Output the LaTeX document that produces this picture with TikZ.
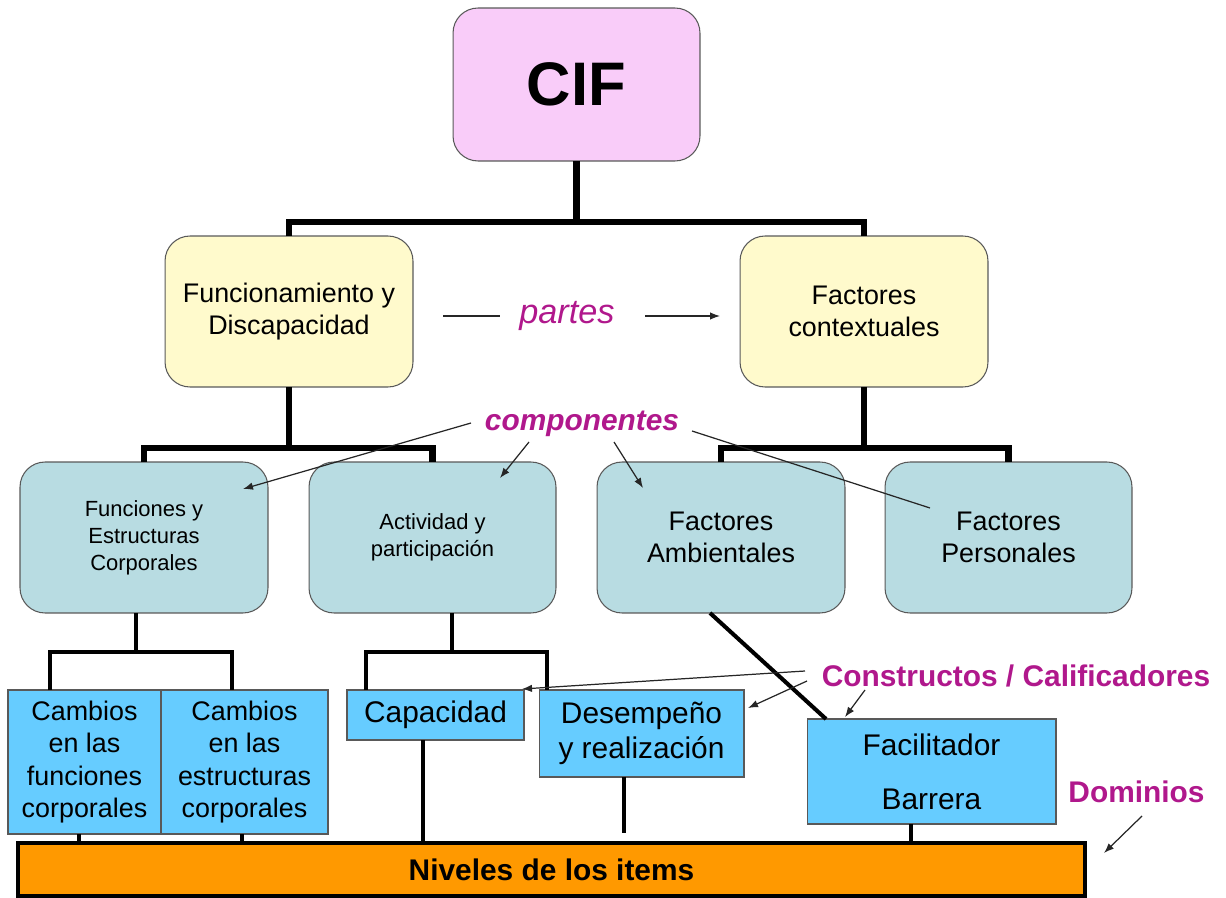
\documentclass[tikz,border=0pt]{standalone}
\usepackage{fontspec}
\setmainfont{Liberation Sans}
\usetikzlibrary{arrows.meta}
\definecolor{cifpink}{HTML}{F9CCF9}
\definecolor{partyellow}{HTML}{FFFACC}
\definecolor{compblue}{HTML}{B8DCE2}
\definecolor{skyblue}{HTML}{66CCFF}
\definecolor{itemorange}{HTML}{FF9900}
\definecolor{labelmag}{HTML}{B0188C}
\begin{document}
\begin{tikzpicture}[x=0.02cm,y=-0.02cm,
 box/.style={draw=black!65, line width=0.6pt, align=center, inner sep=0pt, outer sep=0pt},
 rbox/.style={box, rounded corners=0.5cm},
 trunk/.style={line width=3.6pt},
 branch/.style={line width=2pt},
 stem/.style={line width=1.8pt},
 pointer/.style={line width=0.7pt, black!85, -{Latex[length=2mm,width=1.5mm]}},
 plainline/.style={line width=0.7pt, black!85},
 tag/.style={text=labelmag, inner sep=0pt},
 fmid/.style={font=\fontsize{15.3}{18.3}\selectfont},
 fsmall/.style={font=\fontsize{12.5}{15.3}\selectfont},
 fbig/.style={font=\fontsize{17}{20}\selectfont},
]
\useasboundingbox (0,0) rectangle (1226,898);

% boxes
\node[rbox, fill=cifpink, minimum width=4.94cm, minimum height=3.06cm,
      font=\bfseries\fontsize{35}{40}\selectfont] (cif) at (576.5,84.5) {CIF};
\node[rbox, fill=partyellow, fmid, minimum width=4.96cm, minimum height=3.02cm] (fd) at (289,311.5) {Funcionamiento y\\Discapacidad};
\node[rbox, fill=partyellow, fmid, minimum width=4.96cm, minimum height=3.02cm] (fc) at (864,311.5) {Factores\\contextuales};

\node[rbox, fill=compblue, fsmall, minimum width=4.96cm, minimum height=3.02cm] (fec) at (144,537.5) {Funciones y\\Estructuras\\Corporales};
\node[rbox, fill=compblue, fsmall, minimum width=4.94cm, minimum height=3.02cm] (ap) at (432.5,537.5) {Actividad y\\participación};
\node[rbox, fill=compblue, fmid, minimum width=4.96cm, minimum height=3.02cm] (fa) at (721,537.5) {Factores\\Ambientales};
\node[rbox, fill=compblue, fmid, minimum width=4.94cm, minimum height=3.02cm] (fp) at (1008.5,537.5) {Factores\\Personales};

\node[box, fill=skyblue, font=\fontsize{15.3}{18.5}\selectfont, minimum width=3.06cm, minimum height=2.88cm] (cf) at (84.5,762) {Cambios\\en las\\funciones\\corporales};
\node[box, fill=skyblue, font=\fontsize{15.3}{18.5}\selectfont, minimum width=3.34cm, minimum height=2.88cm] (ce) at (244.5,762) {Cambios\\en las\\estructuras\\corporales};
\node[box, fill=skyblue, fbig, minimum width=3.54cm, minimum height=1.0cm] (cap) at (435.5,715) {Capacidad};
\node[box, fill=skyblue, fbig, minimum width=4.1cm, minimum height=1.74cm] (des) at (641.5,733.5) {Desempeño\\y realización};
\node[box, fill=skyblue, font=\fontsize{17}{30.7}\selectfont, minimum width=4.98cm, minimum height=2.1cm] (fac) at (931.5,771.5) {Facilitador\\Barrera};

\node[box, draw=black, line width=2.6pt, fill=itemorange, font=\bfseries\fontsize{17}{20}\selectfont,
      minimum width=21.34cm, minimum height=1.06cm] (niv) at (551.5,869.5) {Niveles de los items};

% labels
\node[tag, font=\itshape\fontsize{19.5}{22}\selectfont] (partes) at (567,316) {partes};
\node[tag, font=\bfseries\itshape\fontsize{17}{20}\selectfont] (comp) at (582,424) {componentes};
\node[tag, font=\bfseries\fontsize{17}{20}\selectfont] (constr) at (1016,676) {Constructos / Calificadores};
\node[tag, font=\bfseries\fontsize{17}{20}\selectfont] (dom) at (1136.5,792) {Dominios};

% tree: level 1
\draw[trunk] (cif.south) -- ([yshift=0.28cm]cif.south |- fd.north);
\draw[trunk] (fd.north) -- ++(0,-14) -| (fc.north);
% level 2
\draw[trunk] (fd.south) -- ([yshift=0.28cm]fd.south |- fec.north);
\draw[trunk] (fec.north) -- ++(0,-14) -| (ap.north);
\draw[trunk] (fc.south) -- ([yshift=0.28cm]fc.south |- fa.north);
\draw[trunk] (fa.north) -- ++(0,-14) -| (fp.north);
% level 3 to 4
\draw[branch] ([xshift=-0.16cm]fec.south) -- ([xshift=-0.16cm,yshift=0.76cm]fec.south |- cf.north);
\draw[branch] ([xshift=-0.69cm]cf.north) -- ++(0,-38) -| ([xshift=-0.25cm]ce.north);
\draw[branch] ([xshift=0.39cm]ap.south) -- ([xshift=0.39cm,yshift=0.76cm]ap.south |- cap.north);
\draw[branch] ([xshift=-1.39cm]cap.north) -- ++(0,-38) -| ([xshift=-1.89cm]des.north);
\draw[line width=2.3pt] ([xshift=-0.22cm]fa.south) -- ([xshift=0.38cm]fac.north west);
% to the items bar
\draw[stem] ([xshift=-0.11cm]cf.south) -- ([xshift=-0.11cm]cf.south |- niv.north);
\draw[stem] ([xshift=-0.05cm]ce.south) -- ([xshift=-0.05cm]ce.south |- niv.north);
\draw[stem] ([xshift=-0.25cm]cap.south) -- ([xshift=-0.25cm]cap.south |- niv.north);
\draw[stem] ([xshift=-0.35cm]des.south) -- ++(0,56);
\draw[stem] ([xshift=-0.41cm]fac.south) -- ([xshift=-0.41cm]fac.south |- niv.north);

% partes
\coordinate (pa1) at (443,316);
\coordinate (pa2) at (500,316);
\coordinate (pa3) at (645,316);
\coordinate (pa4) at (720,316);
\draw[line width=1pt, black!85] (pa1) -- (pa2);
\draw[pointer] (pa3) -- (pa4);

% componentes pointers
\coordinate (k1a) at (471,423); \coordinate (k1b) at (243,489);
\coordinate (k2a) at (529,442); \coordinate (k2b) at (500,478);
\coordinate (k3a) at (614,442); \coordinate (k3b) at (643,488);
\coordinate (k4a) at (692,431); \coordinate (k4b) at (930,508);
\draw[pointer] (k1a) -- (k1b);
\draw[pointer] (k2a) -- (k2b);
\draw[pointer] (k3a) -- (k3b);
\draw[plainline] (k4a) -- (k4b);

% constructos pointers
\coordinate (q1a) at (805,671); \coordinate (q1b) at (522,689);
\coordinate (q2a) at (807,681); \coordinate (q2b) at (748,708);
\coordinate (q3a) at (865,690); \coordinate (q3b) at (845,717);
\draw[pointer] (q1a) -- (q1b);
\draw[pointer] (q2a) -- (q2b);
\draw[pointer] (q3a) -- (q3b);

% dominios pointer
\coordinate (d1a) at (1142,816); \coordinate (d1b) at (1104,853);
\draw[pointer] (d1a) -- (d1b);
\end{tikzpicture}
\end{document}
